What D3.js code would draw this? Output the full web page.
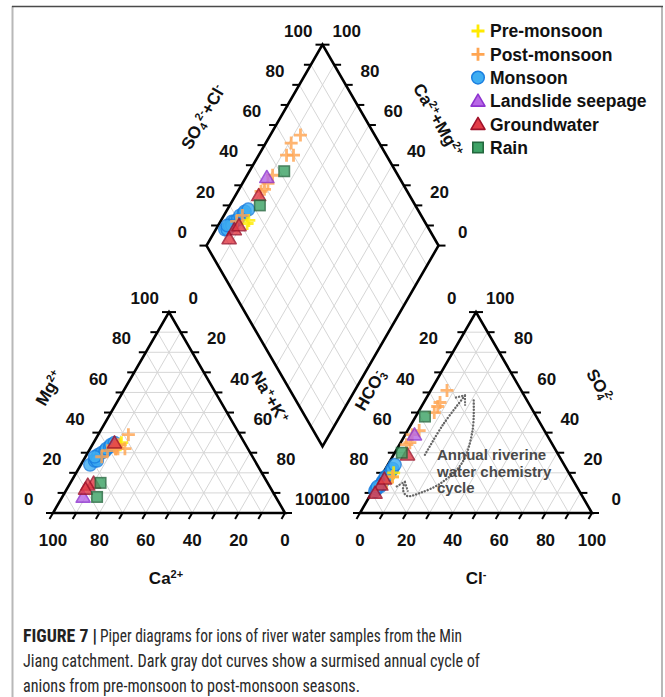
<!DOCTYPE html>
<html>
<head>
<meta charset="utf-8">
<script src="https://cdn.jsdelivr.net/npm/d3@7"></script>
<style>
  body { margin: 0; background: #fff; }
  svg { display: block; font-family: "Liberation Sans", Arial, Helvetica, sans-serif; }
</style>
</head>
<body>
<svg id="chart" width="665" height="697"></svg>
<script>
// ---- Sample compositions, % of meq/L ----
// Columns: [Ca, Mg, SO4, Cl]; Na+K = 100 - Ca - Mg, HCO3 = 100 - SO4 - Cl
const preMonsoon = [[53, 35, 20, 4.5], [54, 34, 18, 5]];
const postMonsoon = [
  [48, 39, 61, 7], [55, 34, 55, 7], [53, 32, 53, 7], [56, 32, 50, 7], [56, 33, 41, 5],
  [57, 32, 39, 3], [57, 32, 35, 4], [57, 33, 34, 3], [61, 31, 18, 5], [65, 28, 15, 4]
];
const monsoon = [
  [72, 24, 11, 1], [69, 26, 12, 1], [68, 27, 13, 2], [66, 29, 15, 2], [64, 30, 16, 2],
  [62, 31, 18, 2], [61, 32, 19, 3], [59, 33, 21, 3], [58, 34, 22, 3], [56, 35, 24, 3],
  [68, 26, 14, 2], [68, 28, 13, 1]
];
const landslide = [[83, 8, 39, 4]];
const groundwater = [[75, 15, 29, 6], [78, 14, 14, 2], [80, 12, 10, 1.5], [56, 35, 17, 2]];
const rain = [[77, 8, 48, 4], [72, 15, 30, 3]];

const seriesNames = ["Pre-monsoon", "Post-monsoon", "Monsoon", "Landslide seepage", "Groundwater", "Rain"];
const tickValues = [0, 10, 20, 30, 40, 50, 60, 70, 80, 90, 100];
const tickLabels = [0, 20, 40, 60, 80, 100];

// Annotation path in the anion triangle, as [SO4, Cl] %
const cycleUp = [[29, 13.5], [44, 13.8], [58.5, 16]];
const cycleBack = [[56, 21], [41, 28], [25, 31.5], [15, 27.5], [10, 21], [8.5, 16], [11.5, 12.8], [15.5, 11.6]];

const captionBold = "FIGURE 7 |";
const captionLines = [
  "Piper diagrams for ions of river water samples from the Min",
  "Jiang catchment. Dark gray dot curves show a surmised annual cycle of",
  "anions from pre-monsoon to post-monsoon seasons."
];

// ---- Layout ----
const W = 665, Hh = 697;
const S = 232;                       // triangle side
const H = S * Math.sqrt(3) / 2;
const baseY = 513;
const catX0 = 53, anX0 = 360;

const frac = d3.scaleLinear().domain([0, 100]).range([0, 1]);

const catA = [catX0, baseY], catB = [catX0 + S, baseY], catC = [catX0 + S / 2, baseY - H];
const anA = [anX0, baseY], anB = [anX0 + S, baseY], anC = [anX0 + S / 2, baseY - H];
const dB = [(catX0 + S + anX0) / 2, 446.5];
const dL = [dB[0] - S / 2, dB[1] - H];
const dT = [dB[0], dB[1] - 2 * H];
const dR = [dB[0] + S / 2, dB[1] - H];

function cation(ca, mg) {
  const m = frac(mg), n = 1 - frac(ca) - m;
  return [catX0 + S * (n + m / 2), baseY - H * m];
}
function anion(so4, cl) {
  const s = frac(so4), c = frac(cl);
  return [anX0 + S * (c + s / 2), baseY - H * s];
}
function diamond(a, b) { // a = SO4+Cl, b = Ca+Mg (fractions)
  return [dL[0] + S / 2 * (a + 1 - b), dL[1] - H * a + H * (1 - b)];
}

const lerp = (p, q, t) => [p[0] + (q[0] - p[0]) * t, p[1] + (q[1] - p[1]) * t];

const svg = d3.select("#chart");
svg.append("rect").attr("width", W).attr("height", Hh).attr("fill", "#fff");

// Frame
svg.append("line").attr("x1", 12.5).attr("x2", 12.5).attr("y1", 6).attr("y2", Hh)
  .attr("stroke", "#b8b8b8").attr("stroke-width", 2);
svg.append("line").attr("x1", 662).attr("x2", 662).attr("y1", 6).attr("y2", Hh)
  .attr("stroke", "#b8b8b8").attr("stroke-width", 2);
svg.append("line").attr("x1", 12).attr("x2", 663).attr("y1", 6.5).attr("y2", 6.5)
  .attr("stroke", "#4a4a4a").attr("stroke-width", 1.6);

// ---- Grid ----
const gridG = svg.append("g").attr("stroke", "#d6d6d6").attr("stroke-width", 1).attr("fill", "none");
const steps = d3.range(1, 10).map(k => k / 10);
function seg(g, p, q) {
  g.append("line").attr("x1", p[0]).attr("y1", p[1]).attr("x2", q[0]).attr("y2", q[1]);
}
function triGrid(A, B, C) {
  steps.forEach(t => {
    seg(gridG, lerp(A, C, t), lerp(B, C, t));
    seg(gridG, lerp(A, B, t), lerp(B, C, 1 - t));
    seg(gridG, lerp(A, B, t), lerp(A, C, t));
  });
}
triGrid(catA, catB, catC);
triGrid(anA, anB, anC);
steps.forEach(t => {
  seg(gridG, lerp(dL, dT, t), lerp(dB, dR, t));
  seg(gridG, lerp(dL, dB, t), lerp(dT, dR, t));
});

// ---- Outlines ----
const outlineG = svg.append("g").attr("fill", "none").attr("stroke", "#000")
  .attr("stroke-width", 2.6).attr("stroke-linejoin", "miter");
[[catA, catB, catC], [anA, anB, anC], [dL, dT, dR, dB]].forEach(poly => {
  outlineG.append("path").attr("d", "M" + poly.map(p => p.join(",")).join("L") + "Z");
});

// ---- Ticks and tick labels ----
const tickG = svg.append("g").attr("stroke", "#000").attr("stroke-width", 2);
const labelG = svg.append("g").attr("font-size", 17).attr("font-weight", "bold")
  .attr("fill", "#111").attr("text-anchor", "middle");
const c30 = Math.cos(Math.PI / 6), s30 = 0.5;
function axis(P0, P1, valueAt, tickDir, labelOff) {
  tickValues.forEach(v => {
    const p = lerp(P0, P1, frac(v));
    tickG.append("line").attr("x1", p[0]).attr("y1", p[1])
      .attr("x2", p[0] + tickDir[0] * 7).attr("y2", p[1] + tickDir[1] * 7);
    const val = valueAt(v);
    if (tickLabels.includes(val)) {
      labelG.append("text").attr("x", p[0] + labelOff[0]).attr("y", p[1] + labelOff[1])
        .attr("dy", "0.36em").text(val);
    }
  });
}
const down = [-0.5, 0.866], leftT = [-1, 0], rightT = [1, 0];
const offBottom = [0, 27], offLeft = [-c30 * 28, -s30 * 28], offRight = [c30 * 28, -s30 * 28];
// cation triangle
axis(catA, catB, v => 100 - v, down, offBottom);          // Ca
axis(catA, catC, v => v, leftT, offLeft);                 // Mg
axis(catC, catB, v => v, rightT, offRight);               // Na+K
// anion triangle
axis(anA, anB, v => v, down, offBottom);                  // Cl
axis(anC, anA, v => v, leftT, offLeft);                   // HCO3
axis(anC, anB, v => 100 - v, rightT, offRight);           // SO4
// diamond
axis(dL, dT, v => v, leftT, offLeft);                     // SO4+Cl
axis(dT, dR, v => 100 - v, rightT, offRight);             // Ca+Mg

// ---- Axis titles ----
function title(x, y, angle, parts) {
  const t = svg.append("text").attr("transform", `translate(${x},${y}) rotate(${angle})`)
    .attr("text-anchor", "middle").attr("font-weight", "bold").attr("font-size", 17)
    .attr("fill", "#111").attr("dy", "0.35em");
  parts.forEach(([txt, kind, dx]) => {
    const ts = t.append("tspan").text(txt);
    if (kind === "sup") ts.attr("font-size", 11).attr("baseline-shift", "55%");
    if (kind === "sub") ts.attr("font-size", 11).attr("baseline-shift", "-25%");
    if (dx) ts.attr("dx", dx);
  });
}
title(49, 388, -60, [["Mg"], ["2+", "sup"]]);
title(270, 397, 60, [["Na"], ["+", "sup"], ["+K"], ["+", "sup"]]);
title(166, 578, 0, [["Ca"], ["2+", "sup"]]);
title(370, 390, -60, [["HCO"], ["3", "sub"], ["-", "sup", -5]]);
title(600, 386, 60, [["SO"], ["4", "sub"], ["2-", "sup", -4]]);
title(476, 578, 0, [["Cl"], ["-", "sup"]]);
title(203, 117, -60, [["SO"], ["4", "sub"], ["2-", "sup"], ["+Cl"], ["-", "sup"]]);
title(438, 120, 60, [["Ca"], ["2+", "sup"], ["+Mg"], ["2+", "sup"]]);

// ---- Annual cycle annotation ----
const defs = svg.append("defs");
defs.append("marker").attr("id", "chev").attr("viewBox", "-10 -8 12 16")
  .attr("markerWidth", 12).attr("markerHeight", 16).attr("markerUnits", "userSpaceOnUse")
  .attr("refX", 0).attr("refY", 0).attr("orient", "auto")
  .append("path").attr("d", "M-8,-6.5L0,0L-8,6.5").attr("fill", "none")
  .attr("stroke", "#6a6a6a").attr("stroke-width", 2).attr("stroke-dasharray", "2.2,1");
const cycleLine = d3.line().x(d => anion(d[0], d[1])[0]).y(d => anion(d[0], d[1])[1])
  .curve(d3.curveCatmullRom.alpha(0.5));
[cycleUp, cycleBack].forEach(pts => {
  svg.append("path").attr("d", cycleLine(pts)).attr("fill", "none")
    .attr("stroke", "#666").attr("stroke-width", 2.4)
    .attr("stroke-dasharray", "0.1,3").attr("stroke-linecap", "round")
    .attr("marker-end", "url(#chev)");
});
const annot = svg.append("text").attr("font-size", 15).attr("font-weight", "bold").attr("fill", "#4a4a4a");
[["Annual riverine", 460], ["water chemistry", 476.5], ["cycle", 493]].forEach(([t, y]) => {
  annot.append("tspan").attr("x", 437).attr("y", y).text(t);
});

// ---- Markers ----
const styles = {
  "Pre-monsoon": { shape: "plus", stroke: "#FFEA00" },
  "Post-monsoon": { shape: "plus", stroke: "#FFA552" },
  "Monsoon": { shape: "circle", fill: "#3FAEF2", stroke: "#1B7FE0" },
  "Landslide seepage": { shape: "tri", fill: "#B868E6", stroke: "#8E34CF" },
  "Groundwater": { shape: "tri", fill: "#E23C48", stroke: "#A0122A" },
  "Rain": { shape: "square", fill: "#3EA366", stroke: "#23683E" }
};
const seriesData = {
  "Pre-monsoon": preMonsoon, "Post-monsoon": postMonsoon, "Monsoon": monsoon,
  "Landslide seepage": landslide, "Groundwater": groundwater, "Rain": rain
};
function marker(g, name, x, y, opacity) {
  const st = styles[name];
  let el;
  if (st.shape === "plus") {
    el = g.append("path").attr("d", "M-6.5,0H6.5M0,-6.5V6.5").attr("stroke", st.stroke)
      .attr("stroke-width", 2.8).attr("fill", "none");
  } else if (st.shape === "circle") {
    el = g.append("circle").attr("r", 6.3).attr("fill", st.fill).attr("stroke", st.stroke).attr("stroke-width", 1.5);
  } else if (st.shape === "tri") {
    el = g.append("path").attr("d", "M0,-6.8L7,5.2L-7,5.2Z").attr("fill", st.fill)
      .attr("stroke", st.stroke).attr("stroke-width", 1.6).attr("stroke-linejoin", "round");
  } else {
    el = g.append("rect").attr("x", -5.2).attr("y", -5.2).attr("width", 10.4).attr("height", 10.4)
      .attr("fill", st.fill).attr("stroke", st.stroke).attr("stroke-width", 1.6);
  }
  el.attr("transform", `translate(${x},${y})`).attr("opacity", opacity);
}
const drawOrder = ["Monsoon", "Pre-monsoon", "Post-monsoon", "Landslide seepage", "Groundwater", "Rain"];
const markG = svg.append("g");
drawOrder.forEach(name => {
  seriesData[name].forEach(([ca, mg, so4, cl]) => {
    const pc = cation(ca, mg), pa = anion(so4, cl);
    const pd = diamond(frac(so4 + cl), frac(ca + mg));
    [pc, pa, pd].forEach(p => marker(markG, name, p[0], p[1], 0.82));
  });
});

// ---- Legend ----
const legG = svg.append("g");
seriesNames.forEach((name, i) => {
  const y = 31 + i * 23.3;
  marker(legG, name, 478, y, 1);
  legG.append("text").attr("x", 490).attr("y", y).attr("dy", "0.36em")
    .attr("font-size", 17.5).attr("font-weight", "bold").attr("fill", "#111").text(name);
});

// ---- Caption ----
const capFont = "'Liberation Sans Narrow', 'Roboto Condensed', 'DejaVu Sans Condensed', sans-serif";
svg.append("text").attr("x", 23).attr("y", 642).attr("font-size", 19).attr("font-weight", "bold")
  .attr("fill", "#222").attr("font-family", capFont)
  .attr("textLength", 74).attr("lengthAdjust", "spacingAndGlyphs").text(captionBold);
const capX = [100, 23, 23], capWidths = [362, 457, 337];
captionLines.forEach((line, i) => {
  svg.append("text").attr("x", capX[i]).attr("y", 642 + i * 25)
    .attr("font-size", 19).attr("fill", "#2a2a2a").attr("font-family", capFont)
    .attr("textLength", capWidths[i]).attr("lengthAdjust", "spacingAndGlyphs").text(line);
});
</script>
</body>
</html>
